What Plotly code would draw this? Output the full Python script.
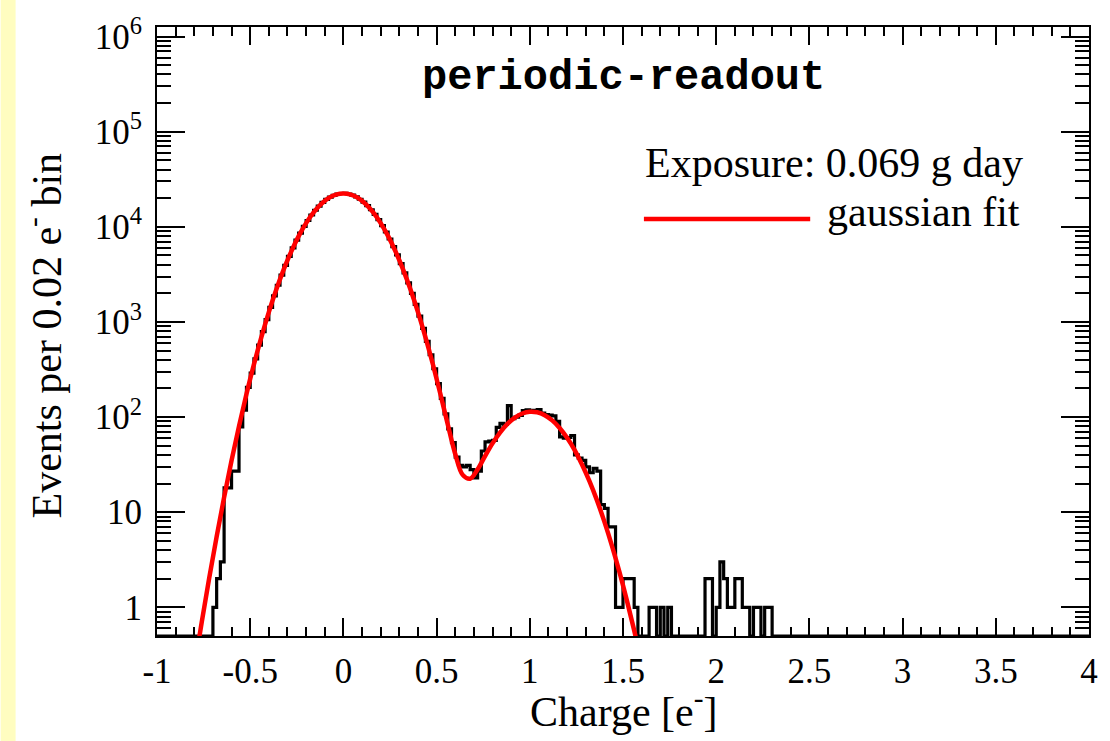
import math
import plotly.graph_objects as go

# ---------------- data ----------------
bin_low = -1.0
bin_width = 0.02
counts = [
    0, 0, 0, 0, 0, 0, 0, 0, 0, 0, 0, 0, 0, 0, 0,
    1, 2, 3, 18, 18, 27, 27, 79,
    118, 205, 290, 410, 570, 790, 1060, 1420, 1880, 2430, 3110, 3930, 4880, 5990,
    7230, 8600, 10080, 11650, 13300, 14920, 16510, 18020, 19380, 20520, 21440, 22060, 22390,
    22420, 22110, 21500, 20600, 19480, 18150, 16680, 15100, 13480, 11870, 10300, 8820, 7440,
    6190, 5080, 4110, 3280, 2580, 2000, 1530, 1150, 855, 625, 452, 322, 225, 157, 108, 75, 54,
    38, 31, 30, 31, 28, 23, 27, 44, 55, 56, 57, 78, 86, 84, 132, 96, 100, 104, 117, 119,
    116, 118, 120, 110, 106, 105, 103, 90, 62, 60, 61, 64, 40, 37, 35, 30, 26, 29, 27, 12, 11, 7, 7,
    1, 1, 2, 2, 2, 1,
    0, 0, 0, 1, 1, 0, 1, 0, 1,
    0, 0, 0, 0, 0, 0, 0, 0, 0,
    2, 2, 0, 1, 3, 2, 1, 1, 2, 2, 1, 1, 0, 1, 1, 0, 1, 1, 0,
    0, 0, 0, 0, 0, 0, 0, 0, 0, 0, 0, 0, 0, 0, 0, 0, 0, 0, 0, 0, 0,
    0, 0, 0, 0, 0, 0, 0, 0, 0, 0, 0, 0, 0, 0, 0, 0, 0, 0, 0, 0, 0,
    0, 0, 0, 0, 0, 0, 0, 0, 0, 0, 0, 0, 0, 0, 0, 0, 0, 0, 0, 0, 0,
    0, 0, 0, 0, 0, 0, 0, 0, 0, 0, 0, 0, 0, 0, 0, 0, 0, 0, 0, 0, 0,
]

fit_x = [
    -0.80, -0.76, -0.72, -0.68, -0.64, -0.60, -0.56, -0.52, -0.48, -0.44, -0.40,
    -0.36, -0.32, -0.28, -0.24, -0.20, -0.16, -0.12, -0.08, -0.04, 0.00,
    0.04, 0.08, 0.12, 0.16, 0.20, 0.24, 0.28, 0.32, 0.36, 0.40,
    0.44, 0.48, 0.52, 0.56, 0.60, 0.64, 0.68, 0.72, 0.76, 0.80,
    0.84, 0.88, 0.92, 0.96, 1.00, 1.04, 1.08, 1.12, 1.16, 1.20,
    1.24, 1.28, 1.32, 1.36, 1.40, 1.44, 1.48, 1.52, 1.56, 1.60,
]
fit_y = [
    0.229, 0.701, 2.03, 5.55, 14.3, 34.9, 80.3, 174.5, 358, 693, 1268,
    2189, 3567, 5490, 7975, 10940, 14170, 17330, 20000, 21800, 22440,
    21800, 20000, 17330, 14170, 10940, 7975, 5490, 3567, 2189, 1268,
    693, 359, 176, 83.6, 40.9, 24.7, 22.5, 28.2, 38.9, 52.9,
    68.8, 84.9, 98.9, 109.1, 113.8, 112.2, 104.7, 92.3, 76.9, 60.6,
    45.2, 31.8, 21.2, 13.4, 7.96, 4.49, 2.39, 1.20, 0.573, 0.258,
]

x_tick_vals = [-1, -0.5, 0, 0.5, 1, 1.5, 2, 2.5, 3, 3.5, 4]
x_tick_text = ["-1", "-0.5", "0", "0.5", "1", "1.5", "2", "2.5", "3", "3.5", "4"]
y_tick_vals = [1, 10, 100, 1000, 10000, 100000, 1000000]
y_tick_text = ["1", "10", "10<sup>2</sup>", "10<sup>3</sup>", "10<sup>4</sup>",
               "10<sup>5</sup>", "10<sup>6</sup>"]

title_text = "periodic-readout"
legend_exposure = "Exposure: 0.069 g day"
legend_fit = "gaussian fit"
x_title = "Charge [e<sup>-</sup>]"
y_title = "Events per 0.02 e<sup>-</sup> bin"

# ---------------- figure ----------------
W, H = 1110, 741
ML, MR, MT, MB = 157, 17, 27, 105
PW, PH = W - ML - MR, H - MT - MB
y_min, y_log_max = 0.5, 6.1
SERIF = "Liberation Serif, Times New Roman, serif"


def px_x(p):
    return (p - ML) / PW


def px_y(p):
    return (H - MB - p) / PH


edges = [bin_low + i * bin_width for i in range(len(counts) + 1)]
hist_y = [c if c > 0 else y_min for c in counts]
hist_y = hist_y + [hist_y[-1]]

fig = go.Figure()
fig.add_trace(go.Scatter(
    x=edges, y=hist_y, mode="lines", line=dict(shape="hv", color="black", width=3.2),
    showlegend=False, hoverinfo="skip"))
fig.add_trace(go.Scatter(
    x=fit_x, y=fit_y, mode="lines", line=dict(shape="spline", color="#ff0000", width=4.5),
    showlegend=False, hoverinfo="skip"))

minor_y = [m * 10 ** e for e in range(-1, 7) for m in range(2, 10)]

fig.update_layout(
    width=W, height=H,
    margin=dict(l=ML, r=MR, t=MT, b=MB, pad=0),
    paper_bgcolor="white", plot_bgcolor="white",
    showlegend=False,
    xaxis=dict(
        range=[-1, 4], tickmode="array", tickvals=x_tick_vals, ticktext=x_tick_text,
        ticks="inside", ticklen=18, tickwidth=1.5, tickcolor="black",
        showline=True, linecolor="black", linewidth=2, mirror="allticks",
        showgrid=False, zeroline=False,
        minor=dict(dtick=0.1, tick0=0, ticks="inside", ticklen=9, tickwidth=1.5,
                   tickcolor="black", showgrid=False),
        tickfont=dict(family=SERIF, size=35, color="black"),
        ticklabelstandoff=3,
    ),
    yaxis=dict(
        type="log", range=[math.log10(y_min), y_log_max],
        tickmode="array", tickvals=y_tick_vals, ticktext=y_tick_text,
        ticks="inside", ticklen=28, tickwidth=1.5, tickcolor="black",
        showline=True, linecolor="black", linewidth=2, mirror="allticks",
        showgrid=False, zeroline=False,
        minor=dict(tickmode="array", tickvals=minor_y, ticks="inside", ticklen=14,
                   tickwidth=1.5, tickcolor="black", showgrid=False),
        tickfont=dict(family=SERIF, size=35, color="black"),
        ticklabelstandoff=6,
    ),
)

# yellow strip at the far left of the page
fig.add_shape(type="rect", xref="paper", yref="paper",
              x0=px_x(0), x1=px_x(15), y0=px_y(H), y1=px_y(0),
              fillcolor="#FFFDC0", line=dict(width=0), layer="below")

# legend red line sample
fig.add_shape(type="line", xref="paper", yref="paper",
              x0=px_x(646), x1=px_x(813), y0=px_y(219), y1=px_y(219),
              line=dict(color="#ff0000", width=4.5))

ann = [
    dict(text="<b>" + title_text + "</b>", x=px_x(626), y=px_y(78),
         font=dict(family="Liberation Mono, Courier New, monospace", size=42, color="black"),
         xanchor="center", yanchor="middle"),
    dict(text=legend_exposure, x=px_x(645), y=px_y(163),
         font=dict(family=SERIF, size=42, color="black"), xanchor="left", yanchor="middle"),
    dict(text=legend_fit, x=px_x(828), y=px_y(212),
         font=dict(family=SERIF, size=42, color="black"), xanchor="left", yanchor="middle"),
    dict(text=x_title, x=px_x(626), y=px_y(708),
         font=dict(family=SERIF, size=42, color="black"), xanchor="center", yanchor="middle"),
    dict(text=y_title, x=px_x(43), y=px_y(335), textangle=-90,
         font=dict(family=SERIF, size=42, color="black"), xanchor="center", yanchor="middle"),
]
for a in ann:
    fig.add_annotation(xref="paper", yref="paper", showarrow=False, **a)

fig.write_html("out.html")
